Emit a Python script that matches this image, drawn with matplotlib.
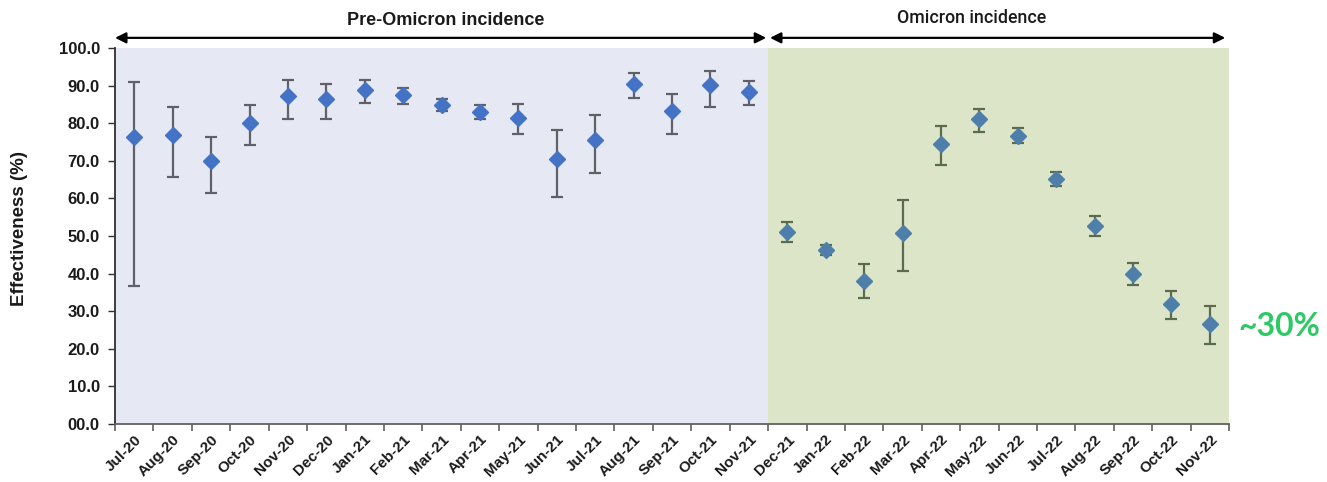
import matplotlib
matplotlib.use("Agg")
import matplotlib.pyplot as plt
import numpy as np

months = ["Jul-20", "Aug-20", "Sep-20", "Oct-20", "Nov-20", "Dec-20", "Jan-21", "Feb-21",
          "Mar-21", "Apr-21", "May-21", "Jun-21", "Jul-21", "Aug-21", "Sep-21", "Oct-21",
          "Nov-21", "Dec-21", "Jan-22", "Feb-22", "Mar-22", "Apr-22", "May-22", "Jun-22",
          "Jul-22", "Aug-22", "Sep-22", "Oct-22", "Nov-22"]
effectiveness = [76.3, 76.8, 69.9, 80.0, 87.2, 86.4, 88.9, 87.5, 84.9, 83.0, 81.5, 70.6,
                 75.6, 90.4, 83.2, 90.1, 88.4,
                 51.0, 46.3, 38.0, 50.9, 74.5, 81.0, 76.7, 65.1, 52.7, 39.9, 32.0, 26.6]
upper_ci = [91.0, 84.4, 76.4, 84.8, 91.5, 90.3, 91.5, 89.4, 86.4, 84.8, 85.2, 78.1,
            82.1, 93.3, 87.8, 94.0, 91.2,
            53.8, 47.6, 42.5, 59.6, 79.3, 83.7, 78.7, 67.1, 55.3, 42.8, 35.5, 31.5]
lower_ci = [36.8, 65.6, 61.5, 74.2, 81.1, 81.1, 85.4, 85.1, 83.3, 81.1, 77.1, 60.4,
            66.8, 86.8, 77.0, 84.4, 84.9,
            48.3, 44.9, 33.5, 40.6, 69.0, 77.6, 74.8, 63.3, 50.0, 37.0, 28.0, 21.4]
n_pre = 17
period_labels = ["Pre-Omicron incidence", "Omicron incidence"]
y_ticks = [0, 10, 20, 30, 40, 50, 60, 70, 80, 90, 100]
annotation = "~30%"

fig = plt.figure(figsize=(13.27, 4.82), dpi=100)
ax = fig.add_axes([0.0867, 0.1203, 0.8395, 0.7801])

x = np.arange(len(months))
eff = np.array(effectiveness)
up = np.array(upper_ci)
lo = np.array(lower_ci)

ax.set_xlim(-0.5, len(months) - 0.5)
ax.set_ylim(0, 100)

# background regions
ax.axvspan(-0.5, n_pre - 0.5, color="#E6E8F4", zorder=0, lw=0)
ax.axvspan(n_pre - 0.5, len(months) - 0.5, color="#DCE5C8", zorder=0, lw=0)

pre = slice(0, n_pre)
post = slice(n_pre, len(months))
ax.errorbar(x[pre], eff[pre], yerr=[eff[pre] - lo[pre], up[pre] - eff[pre]],
            fmt="D", color="#4472C4", ms=8, mec="#4472C4",
            ecolor="#5F6068", elinewidth=1.6, capsize=4, capthick=1.6, zorder=3)
ax.errorbar(x[post], eff[post], yerr=[eff[post] - lo[post], up[post] - eff[post]],
            fmt="D", color="#4E7EAA", ms=8, mec="#4E7EAA",
            ecolor="#5C6B50", elinewidth=1.6, capsize=4, capthick=1.6, zorder=3)

# axes styling
for s in ["top", "right"]:
    ax.spines[s].set_visible(False)
ax.spines["left"].set_color("#303030")
ax.spines["left"].set_linewidth(1.3)
ax.spines["bottom"].set_color("#606060")
ax.spines["bottom"].set_linewidth(1.3)

ax.set_yticks(y_ticks)
ax.set_yticklabels(["%04.1f" % v for v in y_ticks], fontsize=12, fontweight="bold",
                   color="#1A1A1A", family="Liberation Sans")
ax.tick_params(axis="y", direction="out", length=5, width=1, color="#303030", pad=6)

ax.set_xticks(x)
ax.set_xticklabels(months, rotation=45, ha="right", rotation_mode="anchor",
                   fontsize=11, fontweight="bold", color="#1A1A1A", family="Liberation Sans")
ax.tick_params(axis="x", which="major", length=0, pad=6)
ax.set_xticks(np.arange(-0.5, len(months)), minor=True)
ax.tick_params(axis="x", which="minor", direction="out", length=5, width=1.2, color="#606060")

ax.set_ylabel("Effectiveness (%)", fontsize=13.5, fontweight="bold", color="#1A1A1A",
              family="Liberation Sans")
ax.yaxis.set_label_coords(-0.078, 0.52)

# period arrows
arrow_y = 1.027
ax.annotate("", xy=(-0.5, arrow_y), xytext=(n_pre - 0.55, arrow_y),
            xycoords=("data", "axes fraction"), textcoords=("data", "axes fraction"),
            arrowprops=dict(arrowstyle="<|-|>", color="black", lw=1.6,
                            mutation_scale=16, shrinkA=0, shrinkB=0), annotation_clip=False)
ax.annotate("", xy=(n_pre - 0.45, arrow_y), xytext=(len(months) - 0.6, arrow_y),
            xycoords=("data", "axes fraction"), textcoords=("data", "axes fraction"),
            arrowprops=dict(arrowstyle="<|-|>", color="black", lw=1.6,
                            mutation_scale=16, shrinkA=0, shrinkB=0), annotation_clip=False)
ax.text(8.1, 1.05, period_labels[0], transform=ax.get_xaxis_transform(),
        ha="center", va="bottom", fontsize=13, fontweight="bold", color="#1A1A1A",
        family="Liberation Sans")
ax.text(21.8, 1.056, period_labels[1],
        transform=ax.get_xaxis_transform(), ha="center", va="bottom", fontsize=12.8,
        fontweight="medium", color="#1A1A1A", family="Roboto")

ax.text(len(months) - 0.25, 26.0, annotation, ha="left", va="center", fontsize=23,
        fontweight="bold", color="#2DC965", family="Lato")

fig.savefig("out.png", dpi=100)
